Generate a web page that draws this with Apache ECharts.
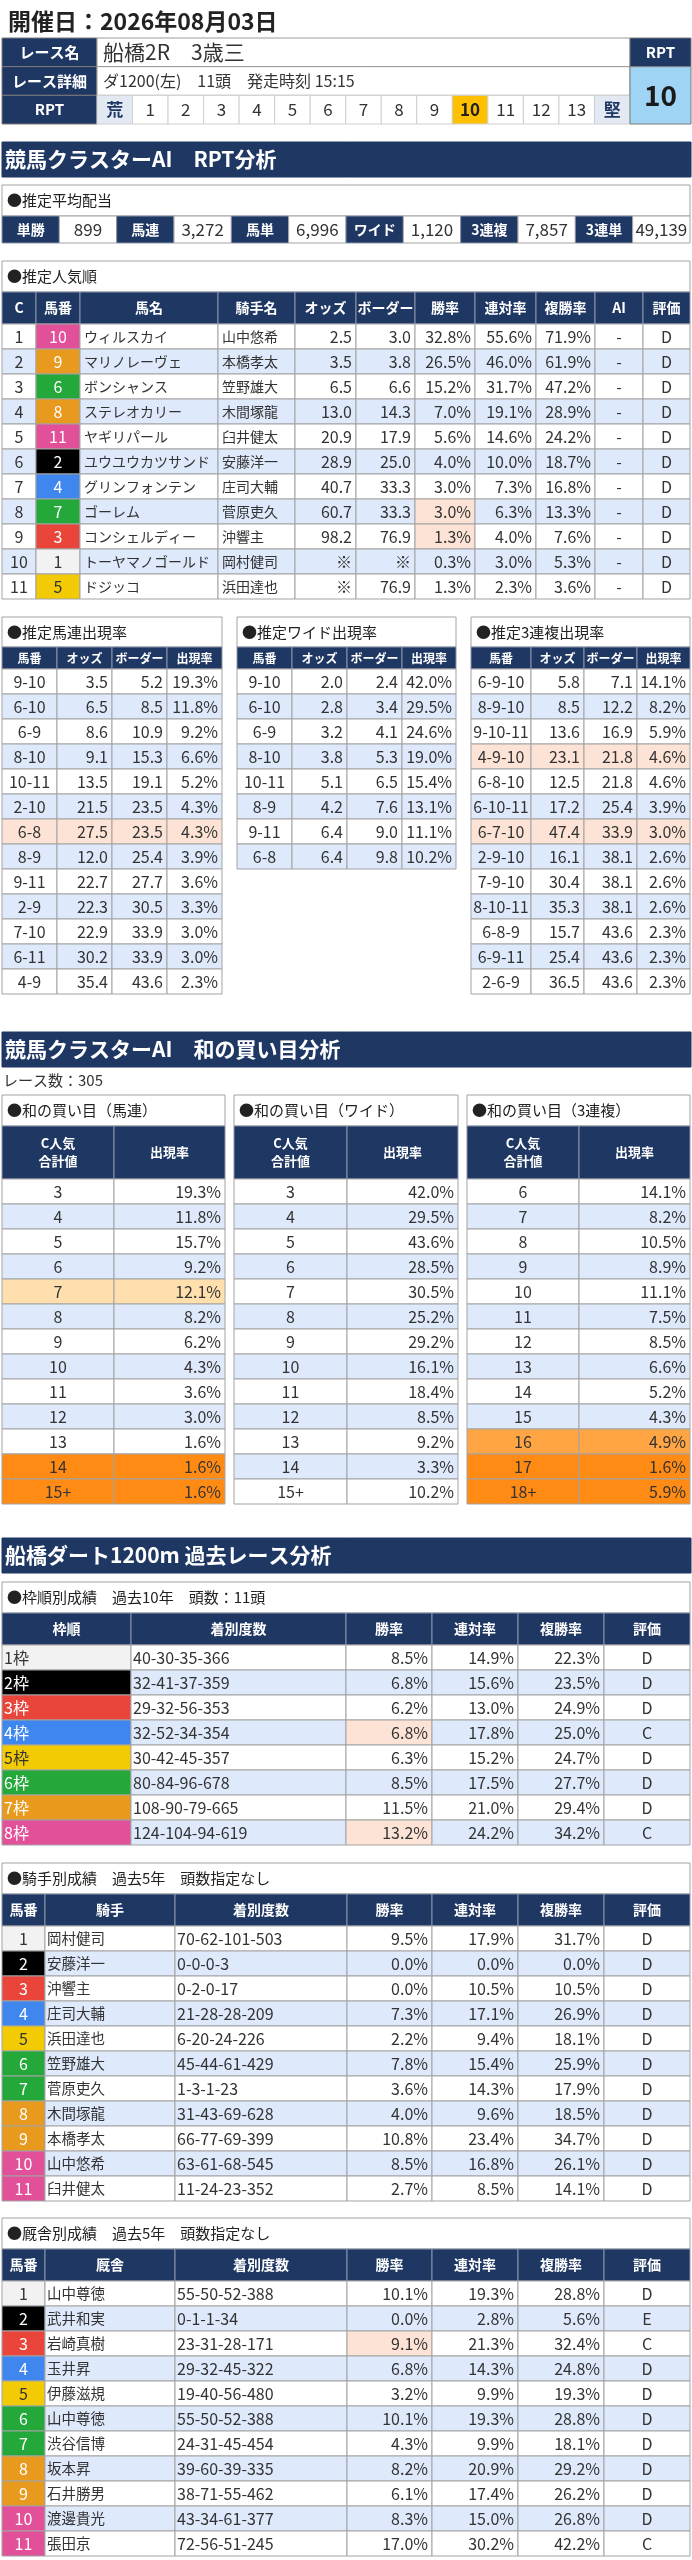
<!DOCTYPE html>
<html>
<head>
<meta charset="utf-8">
<script src="https://cdn.jsdelivr.net/npm/echarts@6/dist/echarts.min.js"></script>
<style>html,body{margin:0;padding:0;background:#fff}#main{width:692px;height:2560px}</style>
</head>
<body>
<div id="main"></div>
<script>
// ---- data ----
var dateTitle = '開催日：2026年08月03日';
var raceName = '船橋2R　3歳三';
var raceDetail = 'ダ1200(左)　11頭　発走時刻 15:15';
var rptScale = ['荒','1','2','3','4','5','6','7','8','9','10','11','12','13','堅'];
var rptValue = 10;

var payoutLabels = ['単勝','馬連','馬単','ワイド','3連複','3連単'];
var payoutValues = ['899','3,272','6,996','1,120','7,857','49,139'];

// frame number of horses 1..11
var horseWaku = [1,2,3,4,5,6,6,7,7,8,8];

var popC = ['1','2','3','4','5','6','7','8','9','10','11'];
var popNo = [10,9,6,8,11,2,4,7,3,1,5];
var popName = ['ウィルスカイ','マリノレーヴェ','ボンシャンス','ステレオカリー','ヤギリパール','ユウユウカツサンド','グリンフォンテン','ゴーレム','コンシェルディー','トーヤマノゴールド','ドジッコ'];
var popJockey = ['山中悠希','本橋孝太','笠野雄大','木間塚龍','臼井健太','安藤洋一','庄司大輔','菅原吏久','沖響主','岡村健司','浜田達也'];
var popOdds = ['2.5','3.5','6.5','13.0','20.9','28.9','40.7','60.7','98.2','※','※'];
var popBorder = ['3.0','3.8','6.6','14.3','17.9','25.0','33.3','33.3','76.9','※','76.9'];
var popWin = ['32.8%','26.5%','15.2%','7.0%','5.6%','4.0%','3.0%','3.0%','1.3%','0.3%','1.3%'];
var popRen = ['55.6%','46.0%','31.7%','19.1%','14.6%','10.0%','7.3%','6.3%','4.0%','3.0%','2.3%'];
var popFuku = ['71.9%','61.9%','47.2%','28.9%','24.2%','18.7%','16.8%','13.3%','7.6%','5.3%','3.6%'];
var popAI = ['-','-','-','-','-','-','-','-','-','-','-'];
var popEval = ['D','D','D','D','D','D','D','D','D','D','D'];
var popWinHi = [7, 8];

var umarenKumi = ['9-10','6-10','6-9','8-10','10-11','2-10','6-8','8-9','9-11','2-9','7-10','6-11','4-9'];
var umarenOdds = ['3.5','6.5','8.6','9.1','13.5','21.5','27.5','12.0','22.7','22.3','22.9','30.2','35.4'];
var umarenBorder = ['5.2','8.5','10.9','15.3','19.1','23.5','23.5','25.4','27.7','30.5','33.9','33.9','43.6'];
var umarenRate = ['19.3%','11.8%','9.2%','6.6%','5.2%','4.3%','4.3%','3.9%','3.6%','3.3%','3.0%','3.0%','2.3%'];
var umarenHi = [6];

var wideKumi = ['9-10','6-10','6-9','8-10','10-11','8-9','9-11','6-8'];
var wideOdds = ['2.0','2.8','3.2','3.8','5.1','4.2','6.4','6.4'];
var wideBorder = ['2.4','3.4','4.1','5.3','6.5','7.6','9.0','9.8'];
var wideRate = ['42.0%','29.5%','24.6%','19.0%','15.4%','13.1%','11.1%','10.2%'];

var trioKumi = ['6-9-10','8-9-10','9-10-11','4-9-10','6-8-10','6-10-11','6-7-10','2-9-10','7-9-10','8-10-11','6-8-9','6-9-11','2-6-9'];
var trioOdds = ['5.8','8.5','13.6','23.1','12.5','17.2','47.4','16.1','30.4','35.3','15.7','25.4','36.5'];
var trioBorder = ['7.1','12.2','16.9','21.8','21.8','25.4','33.9','38.1','38.1','38.1','43.6','43.6','43.6'];
var trioRate = ['14.1%','8.2%','5.9%','4.6%','4.6%','3.9%','3.0%','2.6%','2.6%','2.6%','2.3%','2.3%','2.3%'];
var trioHi = [3, 6];

var raceCount = 'レース数：305';
var waUmarenSum = ['3','4','5','6','7','8','9','10','11','12','13','14','15+'];
var waUmarenRate = ['19.3%','11.8%','15.7%','9.2%','12.1%','8.2%','6.2%','4.3%','3.6%','3.0%','1.6%','1.6%','1.6%'];
var waWideSum = ['3','4','5','6','7','8','9','10','11','12','13','14','15+'];
var waWideRate = ['42.0%','29.5%','43.6%','28.5%','30.5%','25.2%','29.2%','16.1%','18.4%','8.5%','9.2%','3.3%','10.2%'];
var waTrioSum = ['6','7','8','9','10','11','12','13','14','15','16','17','18+'];
var waTrioRate = ['14.1%','8.2%','10.5%','8.9%','11.1%','7.5%','8.5%','6.6%','5.2%','4.3%','4.9%','1.6%','5.9%'];
// 1 = light, 2 = medium, 3 = strong orange
var waUmarenMark = [0,0,0,0,1,0,0,0,0,0,0,3,3];
var waWideMark = [0,0,0,0,0,0,0,0,0,0,0,0,0];
var waTrioMark = [0,0,0,0,0,0,0,0,0,0,2,3,3];

var wakuLabel = ['1枠','2枠','3枠','4枠','5枠','6枠','7枠','8枠'];
var wakuRecord = ['40-30-35-366','32-41-37-359','29-32-56-353','32-52-34-354','30-42-45-357','80-84-96-678','108-90-79-665','124-104-94-619'];
var wakuWin = ['8.5%','6.8%','6.2%','6.8%','6.3%','8.5%','11.5%','13.2%'];
var wakuRen = ['14.9%','15.6%','13.0%','17.8%','15.2%','17.5%','21.0%','24.2%'];
var wakuFuku = ['22.3%','23.5%','24.9%','25.0%','24.7%','27.7%','29.4%','34.2%'];
var wakuEval = ['D','D','D','C','D','D','D','C'];
var wakuWinHi = [3, 7];

var horseNo = ['1','2','3','4','5','6','7','8','9','10','11'];
var jockeyName = ['岡村健司','安藤洋一','沖響主','庄司大輔','浜田達也','笠野雄大','菅原吏久','木間塚龍','本橋孝太','山中悠希','臼井健太'];
var jockeyRecord = ['70-62-101-503','0-0-0-3','0-2-0-17','21-28-28-209','6-20-24-226','45-44-61-429','1-3-1-23','31-43-69-628','66-77-69-399','63-61-68-545','11-24-23-352'];
var jockeyWin = ['9.5%','0.0%','0.0%','7.3%','2.2%','7.8%','3.6%','4.0%','10.8%','8.5%','2.7%'];
var jockeyRen = ['17.9%','0.0%','10.5%','17.1%','9.4%','15.4%','14.3%','9.6%','23.4%','16.8%','8.5%'];
var jockeyFuku = ['31.7%','0.0%','10.5%','26.9%','18.1%','25.9%','17.9%','18.5%','34.7%','26.1%','14.1%'];
var jockeyEval = ['D','D','D','D','D','D','D','D','D','D','D'];

var trainerName = ['山中尊徳','武井和実','岩崎真樹','玉井昇','伊藤滋規','山中尊徳','渋谷信博','坂本昇','石井勝男','渡邊貴光','張田京'];
var trainerRecord = ['55-50-52-388','0-1-1-34','23-31-28-171','29-32-45-322','19-40-56-480','55-50-52-388','24-31-45-454','39-60-39-335','38-71-55-462','43-34-61-377','72-56-51-245'];
var trainerWin = ['10.1%','0.0%','9.1%','6.8%','3.2%','10.1%','4.3%','8.2%','6.1%','8.3%','17.0%'];
var trainerRen = ['19.3%','2.8%','21.3%','14.3%','9.9%','19.3%','9.9%','20.9%','17.4%','15.0%','30.2%'];
var trainerFuku = ['28.8%','5.6%','32.4%','24.8%','19.3%','28.8%','18.1%','29.2%','26.2%','26.8%','42.2%'];
var trainerEval = ['D','E','C','D','D','D','D','D','D','D','C'];
var trainerWinHi = [2];

// ---- styles ----
var FONT = "'Noto Sans CJK JP', 'Noto Sans', sans-serif";
var NAVY = '#1f3763';
var LINE = '#a3a3a3';
var ALT = '#dee9fb';
var SALMON = '#fce3d5';
var wakuBg = ['#f2f2f2','#000000','#e9453a','#3f87ef','#f2cb05','#23a839','#e89a1e','#e2509a'];
var wakuFg = ['#333333','#ffffff','#ffffff','#ffffff','#333333','#ffffff','#ffffff','#ffffff'];
var markBg = [null, '#ffdfad', '#ffa543', '#ff8b14'];

// ---- block helpers: each block = grid with category rows + value x in px ----
var blocks = [];
function addBlock(left, top, width, rowH, nRows, cells) {
  blocks.push({left: left, top: top, width: width, rowH: rowH, nRows: nRows, cells: cells});
}

function zip() {
  var a = arguments;
  return a[0].map(function (_, i) {
    return Array.prototype.map.call(a, function (col) { return col[i]; });
  });
}

function makeRender(cells) {
  return function (params, api) {
    var c = cells[params.dataIndex];
    var a = api.coord([api.value(0), api.value(1)]);
    var b = api.coord([api.value(2), api.value(1)]);
    var bh = api.size([0, 1])[1];
    var h = bh * (c.rs || 1);
    var y0 = a[1] - bh / 2;
    var w = b[0] - a[0];
    var kids = [];
    if (c.bg || c.line) {
      kids.push({type: 'rect', shape: {x: a[0], y: y0, width: w, height: h},
        style: {fill: c.bg || 'transparent', stroke: c.line || 'transparent', lineWidth: c.line ? 1 : 0}});
    }
    if (c.t !== undefined && c.t !== '') {
      var al = c.al || 'center';
      var pad = c.pad == null ? 4 : c.pad;
      var tx = al === 'left' ? a[0] + pad : (al === 'right' ? b[0] - pad : a[0] + w / 2);
      kids.push({type: 'text', x: tx, y: y0 + h / 2,
        style: {text: String(c.t), fill: c.fg || '#333', fontSize: c.fs || 16, fontWeight: c.fw || 'normal',
          fontFamily: FONT, align: al, verticalAlign: 'middle', lineHeight: c.lh || undefined}});
    }
    return {type: 'group', children: kids};
  };
}

function band(top, text) {
  addBlock(2, top, 689, 35, 1, [{x0: 0, x1: 689, r: 0, t: text, al: 'left', pad: 3, bg: NAVY, line: NAVY, fg: '#fff', fw: 'bold', fs: 21}]);
}

function table(o) {
  var L = o.edges[0], W = o.edges[o.edges.length - 1] - L;
  var rel = o.edges.map(function (e) { return e - L; });
  var y = o.top;
  addBlock(L, y, W, o.titleH, 1, [{x0: 0, x1: W, r: 0, t: o.title, al: 'left', pad: 5, fs: 15, bg: '#fff', line: LINE, fg: '#222'}]);
  y += o.titleH;
  addBlock(L, y, W, o.headH, 1, o.head.map(function (t, i) {
    return {x0: rel[i], x1: rel[i + 1], r: 0, t: t, bg: NAVY, line: '#8b95a8', fg: '#fff', fw: 'bold', fs: o.headFs || 14, lh: o.headLh};
  }));
  y += o.headH;
  var cells = [];
  o.body.forEach(function (row, r) {
    row.forEach(function (t, c) {
      var s = o.style ? (o.style(r, c) || {}) : {};
      cells.push({x0: rel[c], x1: rel[c + 1], r: r, t: t, al: o.al[c], fs: o.fs[c],
        bg: s.bg || (r % 2 ? ALT : '#fff'), fg: s.fg || '#333', line: LINE, pad: s.pad == null ? 4 : s.pad});
    });
  });
  addBlock(L, y, W, o.rowH, o.body.length, cells);
}

// ---- header ----
addBlock(2, 8, 400, 26, 1, [{x0: 0, x1: 400, r: 0, t: dateTitle, al: 'left', pad: 6, fs: 23, fw: 'bold', fg: '#222'}]);

var raceCells = [];
var labels = ['レース名', 'レース詳細', 'RPT'];
labels.forEach(function (t, r) {
  raceCells.push({x0: 0, x1: 95, r: r, t: t, bg: NAVY, line: '#7a7a7a', fg: '#fff', fw: 'bold', fs: 15});
});
raceCells.push({x0: 95, x1: 628, r: 0, t: raceName, al: 'left', pad: 6, fs: 21, bg: '#fff', line: '#9a9a9a', fg: '#333'});
raceCells.push({x0: 95, x1: 628, r: 1, t: raceDetail, al: 'left', pad: 6, fs: 16, bg: '#fff', line: '#9a9a9a', fg: '#333'});
var sw = (628 - 95) / rptScale.length;
rptScale.forEach(function (t, i) {
  var c = {x0: 95 + i * sw, x1: 95 + (i + 1) * sw, r: 2, t: t, fs: 17, bg: '#fff', line: '#cfcfcf', fg: '#333'};
  if (i === 0 || i === rptScale.length - 1) { c.bg = '#e3e9f3'; c.fg = NAVY; c.fw = 'bold'; }
  if (t === String(rptValue)) { c.bg = '#ffc000'; c.fw = 'bold'; c.fg = '#222'; }
  raceCells.push(c);
});
raceCells.push({x0: 628, x1: 689, r: 0, t: 'RPT', bg: NAVY, line: '#7a7a7a', fg: '#fff', fw: 'bold', fs: 15});
raceCells.push({x0: 628, x1: 689, r: 1, rs: 2, t: String(rptValue), bg: '#9fd4f5', line: '#7a7a7a', fg: '#1a1a1a', fw: 'bold', fs: 28});
addBlock(2, 38, 689, 86 / 3, 3, raceCells);

band(142, '競馬クラスターAI　RPT分析');

// ---- payout ----
addBlock(2, 185, 688, 31, 1, [{x0: 0, x1: 688, r: 0, t: '●推定平均配当', al: 'left', pad: 5, fs: 15, bg: '#fff', line: LINE, fg: '#222'}]);
var pw = 688 / 12, payCells = [];
payoutLabels.forEach(function (t, i) {
  payCells.push({x0: pw * 2 * i, x1: pw * (2 * i + 1), r: 0, t: t, bg: NAVY, line: '#8b95a8', fg: '#fff', fw: 'bold', fs: 14});
  payCells.push({x0: pw * (2 * i + 1), x1: pw * (2 * i + 2), r: 0, t: payoutValues[i], bg: '#fff', line: LINE, fg: '#333', fs: 17});
});
addBlock(2, 216, 688, 27, 1, payCells);

// ---- popularity ----
table({
  edges: [2, 36, 80, 218, 295, 356, 415, 475, 536, 595, 643, 690], top: 261,
  title: '●推定人気順', titleH: 31,
  head: ['C', '馬番', '馬名', '騎手名', 'オッズ', 'ボーダー', '勝率', '連対率', '複勝率', 'AI', '評価'], headH: 32,
  body: zip(popC, popNo, popName, popJockey, popOdds, popBorder, popWin, popRen, popFuku, popAI, popEval), rowH: 25,
  al: ['center', 'center', 'left', 'left', 'right', 'right', 'right', 'right', 'right', 'center', 'center'],
  fs: [16, 16, 14, 14, 16, 16, 16, 16, 16, 16, 16],
  style: function (r, c) {
    if (c === 1) { var w = horseWaku[popNo[r] - 1] - 1; return {bg: wakuBg[w], fg: wakuFg[w]}; }
    if (c === 6 && popWinHi.indexOf(r) >= 0) return {bg: SALMON};
  }
});

// ---- three combination tables ----
var smallHead = ['馬番', 'オッズ', 'ボーダー', '出現率'];
function smallTable(edges, title, body, hi) {
  table({
    edges: edges, top: 617, title: title, titleH: 30, head: smallHead, headH: 22, headFs: 12,
    body: body, rowH: 25, al: ['center', 'right', 'right', 'right'], fs: [16, 16, 16, 16],
    style: function (r) { if (hi.indexOf(r) >= 0) return {bg: SALMON}; }
  });
}
smallTable([2, 57, 112, 167, 222], '●推定馬連出現率', zip(umarenKumi, umarenOdds, umarenBorder, umarenRate), umarenHi);
smallTable([237, 292, 347, 402, 456], '●推定ワイド出現率', zip(wideKumi, wideOdds, wideBorder, wideRate), []);
smallTable([471, 531, 584, 637, 690], '●推定3連複出現率', zip(trioKumi, trioOdds, trioBorder, trioRate), trioHi);

// ---- wa analysis ----
band(1032, '競馬クラスターAI　和の買い目分析');
addBlock(2, 1068, 300, 24, 1, [{x0: 0, x1: 300, r: 0, t: raceCount, al: 'left', pad: 1, fs: 15, fg: '#333'}]);

function waTable(edges, title, sums, rates, marks) {
  table({
    edges: edges, top: 1095, title: title, titleH: 31, head: ['C人気\n合計値', '出現率'], headH: 53, headFs: 13, headLh: 18,
    body: zip(sums, rates), rowH: 25, al: ['center', 'right'], fs: [16, 16],
    style: function (r) { if (marks[r]) return {bg: markBg[marks[r]]}; }
  });
}
waTable([2, 114, 225], '●和の買い目（馬連）', waUmarenSum, waUmarenRate, waUmarenMark);
waTable([234, 347, 458], '●和の買い目（ワイド）', waWideSum, waWideRate, waWideMark);
waTable([467, 579, 690], '●和の買い目（3連複）', waTrioSum, waTrioRate, waTrioMark);

// ---- past race analysis ----
band(1538, '船橋ダート1200m 過去レース分析');

table({
  edges: [2, 131, 346, 432, 518, 604, 690], top: 1582,
  title: '●枠順別成績　過去10年　頭数：11頭', titleH: 31,
  head: ['枠順', '着別度数', '勝率', '連対率', '複勝率', '評価'], headH: 32,
  body: zip(wakuLabel, wakuRecord, wakuWin, wakuRen, wakuFuku, wakuEval), rowH: 25,
  al: ['left', 'left', 'right', 'right', 'right', 'center'], fs: [16, 16, 16, 16, 16, 16],
  style: function (r, c) {
    if (c === 0) return {bg: wakuBg[r], fg: wakuFg[r], pad: 2};
    if (c === 1) return {pad: 2};
    if (c === 2 && wakuWinHi.indexOf(r) >= 0) return {bg: SALMON};
  }
});

function personTable(top, title, who, body, hi) {
  table({
    edges: [2, 45, 175, 347, 432, 518, 604, 690], top: top, title: title, titleH: 31,
    head: ['馬番', who, '着別度数', '勝率', '連対率', '複勝率', '評価'], headH: 32,
    body: body, rowH: 25,
    al: ['center', 'left', 'left', 'right', 'right', 'right', 'center'], fs: [16, 14.5, 16, 16, 16, 16, 16],
    style: function (r, c) {
      if (c === 0) { var w = horseWaku[r] - 1; return {bg: wakuBg[w], fg: wakuFg[w]}; }
      if (c === 1 || c === 2) return {pad: 2};
      if (c === 3 && hi.indexOf(r) >= 0) return {bg: SALMON};
    }
  });
}
personTable(1863, '●騎手別成績　過去5年　頭数指定なし', '騎手',
  zip(horseNo, jockeyName, jockeyRecord, jockeyWin, jockeyRen, jockeyFuku, jockeyEval), []);
personTable(2218, '●厩舎別成績　過去5年　頭数指定なし', '厩舎',
  zip(horseNo, trainerName, trainerRecord, trainerWin, trainerRen, trainerFuku, trainerEval), trainerWinHi);

// ---- build option ----
var option = {animation: false, backgroundColor: '#fff', grid: [], xAxis: [], yAxis: [], series: []};
blocks.forEach(function (b, i) {
  var rows = [];
  for (var k = 0; k < b.nRows; k++) rows.push(String(k));
  option.grid.push({left: b.left, top: b.top, width: b.width, height: b.rowH * b.nRows});
  option.xAxis.push({type: 'value', gridIndex: i, min: 0, max: b.width, show: false});
  option.yAxis.push({type: 'category', gridIndex: i, data: rows, inverse: true, show: false});
  option.series.push({
    type: 'custom', xAxisIndex: i, yAxisIndex: i, silent: true, clip: false,
    renderItem: makeRender(b.cells),
    data: b.cells.map(function (c) { return [c.x0, c.r, c.x1]; })
  });
});

var myChart = echarts.init(document.getElementById('main'));
myChart.setOption(option);
</script>
</body>
</html>
